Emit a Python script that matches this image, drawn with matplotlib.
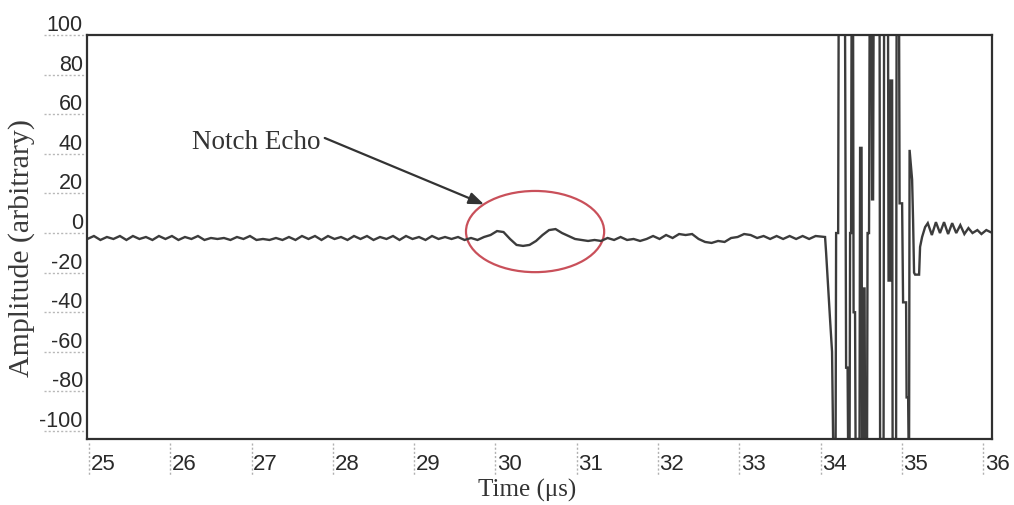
import numpy as np
import matplotlib
matplotlib.use("Agg")
import matplotlib.pyplot as plt
import matplotlib.transforms as mtransforms
from matplotlib.patches import Ellipse

# ---------------- data ----------------
# baseline / notch-echo trace, sampled every 0.08 us starting at 24.98 us
base_start = 24.98
base_step = 0.08
base_values = [
    -3, -1.5, -3.5, -2, -3, -1.5, -3.5, -1.5, -3, -2,
    -3.5, -1.5, -3, -1.5, -3.5, -2, -3, -1.5, -3.5, -2.5,
    -3, -2.5, -3.5, -2, -3, -1.5, -3.5, -3, -3.5, -2.5,
    -3.5, -2, -3.5, -1.5, -3, -1.5, -3.5, -1.5, -3, -2,
    -3.5, -1.5, -3, -1.5, -3.5, -2, -3, -1.5, -3.5, -1.5,
    -3, -2, -3.5, -1.5, -3,
    -2, -3, -2, -3.5, -2.5, -3.5, -2, -1, 1, 0.5,
    -3, -6, -6.5, -6, -4, -1, 1.5, 2, 0, -1.5,
    -3, -3.5, -4, -3.5, -4, -2.5, -3.5, -2, -3.5, -3,
    -4, -3, -1.5, -3, -1, -2.5, -0.5, -1, -0.5, -3,
    -4.5, -5, -4, -4.5, -2.5, -2, -0.5, -1, -2.5, -1.5,
    -3, -1.5, -3, -1.5, -3, -1.5, -3, -1.5,
]

# back-wall burst (saturated beyond +/-100), time in us
burst_time = [
    34.056, 34.069, 34.093, 34.118, 34.142, 34.155, 34.186, 34.192, 34.217, 34.223,
    34.302, 34.315, 34.333, 34.339, 34.358, 34.364, 34.376, 34.382, 34.401, 34.407,
    34.425, 34.431, 34.480, 34.487, 34.505, 34.511, 34.524, 34.530, 34.542, 34.548,
    34.573, 34.579, 34.597, 34.604, 34.628, 34.634, 34.647, 34.653, 34.727, 34.733,
    34.776, 34.782, 34.831, 34.837, 34.856, 34.862, 34.881, 34.887, 34.930, 34.936,
    34.967, 34.973, 35.004, 35.016, 35.053, 35.059, 35.078, 35.084, 35.090, 35.096,
    35.127, 35.139, 35.151, 35.164, 35.213, 35.225, 35.250, 35.287,
]
burst_values = [
    -2, -10, -27, -44, -60, -104, -104, 0, 0, 104,
    104, -68, -68, -104, -104, 0, 0, 104, 104, -40,
    -40, -104, -104, 43, 43, -104, -104, -28, -28, -104,
    -104, 0, 0, 104, 104, 17, 17, 104, 104, -104,
    -104, 104, 104, -24, -24, 77, 77, -104, -104, 104,
    104, 15, 15, -35, -35, -83, -83, -104, -104, 42,
    27, 6.5, -20, -21, -21, -7, -2, 3,
]

# ringing after the burst
ring_time = [35.32, 35.37, 35.42, 35.47, 35.52, 35.57, 35.62, 35.67, 35.72, 35.77,
             35.82, 35.87, 35.93, 35.98, 36.04, 36.09, 36.12]
ring_values = [5, -1, 5.5, 0, 5.5, -0.5, 5, 0, 4, -0.5,
               2.5, 0, 1.5, -0.5, 1.5, 0.5, 0]

x_ticks = [25, 26, 27, 28, 29, 30, 31, 32, 33, 34, 35, 36]
y_ticks = [100, 80, 60, 40, 20, 0, -20, -40, -60, -80, -100]

# ---------------- figure ----------------
W, H, DPI = 1014, 505, 100
fig = plt.figure(figsize=(W / DPI, H / DPI), dpi=DPI)
L, R, T, B = 87, 992, 35, 439
ax = fig.add_axes([L / W, 1 - B / H, (R - L) / W, (B - T) / H])

base_time = base_start + base_step * np.arange(len(base_values))
t_all = np.concatenate([base_time, burst_time, ring_time])
v_all = np.concatenate([base_values, burst_values, ring_values])

trace_color = "#3c3c3c"
ax.plot(t_all, v_all, color=trace_color, lw=1.7, solid_joinstyle="miter")

ax.set_xlim(24.975, 36.11)
ax.set_ylim(-104, 100)

for s in ax.spines.values():
    s.set_color("#303030")
    s.set_linewidth(1.6)

sans = ["Liberation Sans", "DejaVu Sans"]
serif = ["Liberation Serif", "DejaVu Serif"]

ax.set_xticks(x_ticks)
ax.set_xticklabels([str(v) for v in x_ticks], fontsize=16, family=sans, color="#2a2a2a")
ax.set_yticks(y_ticks)
ax.set_yticklabels([str(v) for v in y_ticks], fontsize=15.5, family=sans, color="#2a2a2a")
ax.tick_params(axis="x", length=0, pad=11)
ax.tick_params(axis="y", length=0, pad=3)

# shift tick labels like the original (x labels right of ticks, y labels above)
offx = mtransforms.ScaledTranslation(14 / DPI, 0, fig.dpi_scale_trans)
for lab in ax.get_xticklabels():
    lab.set_transform(lab.get_transform() + offx)
offy = mtransforms.ScaledTranslation(0, 12 / DPI, fig.dpi_scale_trans)
for lab in ax.get_yticklabels():
    lab.set_transform(lab.get_transform() + offy)

# dotted tick lines outside the frame
tx = mtransforms.blended_transform_factory(ax.transData, ax.transAxes)
for xv in x_ticks:
    ax.plot([xv, xv], [-0.01, -0.09], transform=tx, clip_on=False,
            color="#b0b0b0", lw=1.0, ls=(0, (1.5, 1.5)))
ty = mtransforms.blended_transform_factory(ax.transAxes, ax.transData)
for yv in y_ticks:
    ax.plot([-0.047, -0.003], [yv, yv], transform=ty, clip_on=False,
            color="#b8b8b8", lw=1.0, ls=(0, (1.5, 1.5)))

ax.set_xlabel("Time (\u03bcs)", fontsize=18, family=serif, color="#333333")
ax.xaxis.set_label_coords((527 - L) / (R - L), (B - 479) / (B - T))
ax.set_ylabel("Amplitude (arbitrary)", fontsize=21.5, family=serif, color="#3a3a3a")
ax.yaxis.set_label_coords((35 - L) / (R - L), (B - 248) / (B - T))

# notch echo annotation
ell = Ellipse((30.488, 0.75), 1.70, 41, fill=False, edgecolor="#c9505a", lw=1.6)
ax.add_patch(ell)
ax.text(27.85, 45.5, "Notch Echo", fontsize=19.5, family=serif, color="#333333",
        ha="right", va="center")
ax.annotate("", xy=(29.86, 14.5), xytext=(27.90, 48),
            arrowprops=dict(arrowstyle="-|>,head_length=0.9,head_width=0.35",
                            color="#333333", lw=1.6, shrinkA=0, shrinkB=0))

fig.savefig("out.png", dpi=DPI)
